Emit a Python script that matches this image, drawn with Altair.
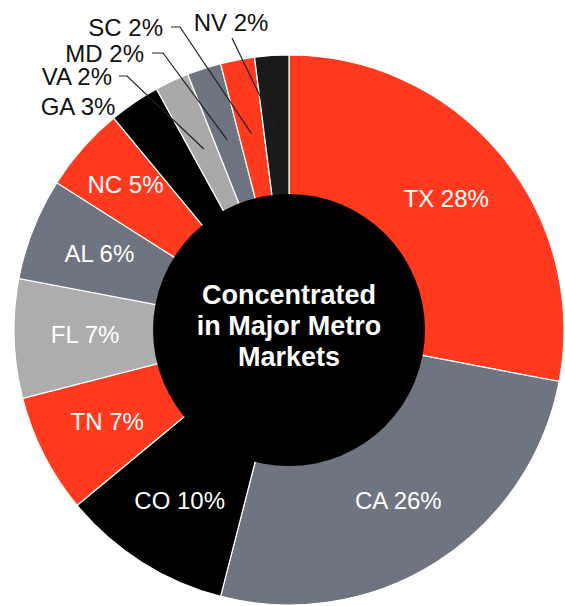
import altair as alt
import numpy as np
import pandas as pd

# ---- data ----
states = ["TX", "CA", "CO", "TN", "FL", "AL", "NC", "GA", "VA", "MD", "SC", "NV"]
shares = [28, 26, 10, 7, 7, 6, 5, 3, 2, 2, 2, 2]
colors = ["#FF3A1F", "#6E7480", "#000000", "#FF3A1F", "#ADADAD", "#6E7480",
          "#FF3A1F", "#000000", "#A9A9A9", "#6E7480", "#FF3A1F", "#1A1A1A"]
inside = ["TX", "CA", "CO", "TN", "FL", "AL"]
inside_far = ["NC"]
center_text = ["Concentrated", "in Major Metro", "Markets"]

# ---- layout (pixel geometry of the pie) ----
R_OUT = 275
R_IN = 136
CX, CY = 289, 330
outer_layout = {
    "GA": dict(tx=78, ty=108, align="center", elbow=None, start=None),
    "VA": dict(tx=112, ty=78, align="right", elbow=[(119, 76), (127, 76)], start=True),
    "MD": dict(tx=144, ty=55, align="right", elbow=[(152, 53), (163, 53)], start=True),
    "SC": dict(tx=163, ty=29, align="right", elbow=[(171, 27), (180, 27)], start=True),
    "NV": dict(tx=231, ty=24, align="center", elbow=[(232, 38)], start=True),
}


def to_unit(px, py):
    return (px - CX) / R_OUT, (CY - py) / R_OUT


df = pd.DataFrame({"state": states, "value": shares, "color": colors})
df["order"] = range(len(df))
df["label"] = [f"{s} {v}%" for s, v in zip(states, shares)]
df["inner_label"] = [l if s in inside else "" for s, l in zip(states, df["label"])]
df["inner_label2"] = [l if s in inside_far else "" for s, l in zip(states, df["label"])]

cum = np.cumsum(shares)
mid_frac = (cum - np.array(shares) / 2) / cum[-1]
mid_ang = mid_frac * 2 * np.pi  # clockwise from top

line_rows = []
text_rows = []
for i, s in enumerate(states):
    if s not in outer_layout:
        continue
    lay = outer_layout[s]
    ux, uy = to_unit(lay["tx"], lay["ty"])
    text_rows.append(dict(state=s, label=df.loc[i, "label"], x=ux, y=uy, align=lay["align"]))
    if lay["start"]:
        k = 0
        for (px, py) in lay["elbow"]:
            ex, ey = to_unit(px, py)
            line_rows.append(dict(state=s, k=k, x=ex, y=ey))
            k += 1
        r = 200 / R_OUT
        line_rows.append(dict(state=s, k=k, x=r * np.sin(mid_ang[i]), y=r * np.cos(mid_ang[i])))

lines_df = pd.DataFrame(line_rows)
text_df = pd.DataFrame(text_rows)

xs = alt.Scale(domain=[-1, 1], nice=False, zero=False)
ys = alt.Scale(domain=[-1, 1], nice=False, zero=False)

color_scale = alt.Scale(domain=states, range=colors)

arcs = alt.Chart(df).mark_arc(outerRadius=R_OUT, innerRadius=0, stroke="white",
                              strokeWidth=1.2).encode(
    theta=alt.Theta("value:Q", stack=True),
    color=alt.Color("state:N", scale=color_scale, legend=None),
    order=alt.Order("order:Q"),
)

inner_text = alt.Chart(df).mark_text(radius=204, fontSize=24, font="Liberation Sans",
                                     color="white").encode(
    theta=alt.Theta("value:Q", stack=True),
    order=alt.Order("order:Q"),
    text="inner_label:N",
)
inner_text2 = alt.Chart(df).mark_text(radius=218, fontSize=24, font="Liberation Sans",
                                      color="white").encode(
    theta=alt.Theta("value:Q", stack=True),
    order=alt.Order("order:Q"),
    text="inner_label2:N",
)

disk_df = pd.DataFrame({"x": [0.0], "y": [0.0]})
disk = alt.Chart(disk_df).mark_circle(color="black", opacity=1).encode(
    x=alt.X("x:Q", scale=xs, axis=None),
    y=alt.Y("y:Q", scale=ys, axis=None),
    size=alt.value(float((2 * R_IN) ** 2)),
)

center = alt.Chart(disk_df).mark_text(
    fontSize=27, fontWeight="bold", font="Liberation Sans", color="white",
    lineHeight=31, align="center", baseline="middle", dy=-34,
).encode(
    x=alt.X("x:Q", scale=xs, axis=None),
    y=alt.Y("y:Q", scale=ys, axis=None),
    text=alt.value(center_text),
)

leaders = alt.Chart(lines_df).mark_line(color="#222222", strokeWidth=1.2).encode(
    x=alt.X("x:Q", scale=xs, axis=None),
    y=alt.Y("y:Q", scale=ys, axis=None),
    detail="state:N",
    order="k:Q",
)

outer_right = alt.Chart(text_df[text_df["align"] == "right"]).mark_text(
    fontSize=24, font="Liberation Sans", color="#111111", align="right", baseline="middle"
).encode(
    x=alt.X("x:Q", scale=xs, axis=None),
    y=alt.Y("y:Q", scale=ys, axis=None),
    text="label:N",
)
outer_center = alt.Chart(text_df[text_df["align"] == "center"]).mark_text(
    fontSize=24, font="Liberation Sans", color="#111111", align="center", baseline="middle"
).encode(
    x=alt.X("x:Q", scale=xs, axis=None),
    y=alt.Y("y:Q", scale=ys, axis=None),
    text="label:N",
)

chart = alt.layer(arcs, disk, inner_text, inner_text2, center, leaders,
                  outer_right, outer_center).properties(
    width=2 * R_OUT, height=2 * R_OUT,
    padding={"left": CX - R_OUT, "top": CY - R_OUT, "right": 1, "bottom": 1},
    autosize=alt.AutoSizeParams(type="none"),
    background="white",
).configure_view(stroke=None)

chart.save("out.html", embed_options={"renderer": "svg", "actions": False})
